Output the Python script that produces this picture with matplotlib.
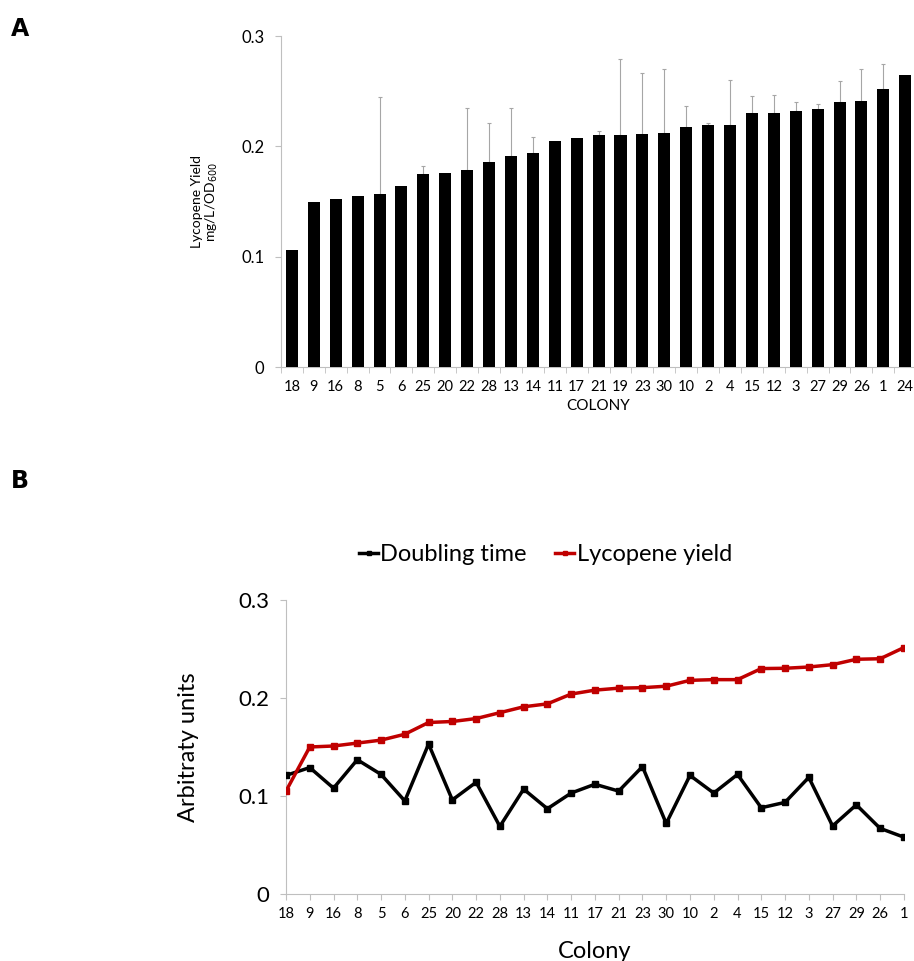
import matplotlib.pyplot as plt
import numpy as np

plt.rcParams['font.family'] = ['Lato', 'DejaVu Sans']

# panel A: lycopene yield per colony
colonies_a = ['18', '9', '16', '8', '5', '6', '25', '20', '22', '28', '13', '14', '11', '17', '21',
              '19', '23', '30', '10', '2', '4', '15', '12', '3', '27', '29', '26', '1', '24']
yield_a = [0.106, 0.150, 0.152, 0.155, 0.157, 0.164, 0.175, 0.176, 0.179, 0.186, 0.191, 0.194,
           0.2045, 0.2076, 0.210, 0.2106, 0.211, 0.212, 0.218, 0.219, 0.219, 0.230, 0.2305,
           0.232, 0.2344, 0.240, 0.2414, 0.252, 0.265]
err_a = [np.nan, np.nan, np.nan, np.nan, 0.088, np.nan, 0.007, np.nan, 0.056, 0.035, 0.044, 0.015,
         np.nan, np.nan, 0.004, 0.069, 0.056, 0.058, 0.019, 0.002, 0.041, 0.016, 0.0165,
         0.0085, 0.0045, 0.019, 0.029, 0.023, np.nan]

# panel B: doubling time vs lycopene yield
colonies_b = ['18', '9', '16', '8', '5', '6', '25', '20', '22', '28', '13', '14', '11', '17', '21',
              '23', '30', '10', '2', '4', '15', '12', '3', '27', '29', '26', '1']
doubling = [0.121, 0.129, 0.108, 0.137, 0.122, 0.095, 0.153, 0.096, 0.114, 0.069, 0.107, 0.087,
            0.103, 0.112, 0.105, 0.130, 0.072, 0.121, 0.103, 0.122, 0.088, 0.0935, 0.119,
            0.0694, 0.091, 0.067, 0.058]
lycopene = [0.105, 0.150, 0.151, 0.154, 0.157, 0.163, 0.175, 0.176, 0.179, 0.185, 0.191, 0.194,
            0.204, 0.208, 0.210, 0.2105, 0.212, 0.218, 0.2187, 0.2187, 0.230, 0.2303, 0.2316,
            0.234, 0.2395, 0.240, 0.2514]

grey = '#bfbfbf'
fig = plt.figure(figsize=(9.14, 9.61), dpi=100)

# ---- A ----
ax = fig.add_axes([0.3074, 0.618, 0.695, 0.3444])
x = np.arange(len(colonies_a))
ax.bar(x, yield_a, width=0.55, color='black', zorder=3)
err = np.array(err_a)
m = ~np.isnan(err)
ax.errorbar(x[m], np.array(yield_a)[m], yerr=[np.zeros(m.sum()), err[m]], fmt='none',
            ecolor='#a6a6a6', elinewidth=0.8, capsize=1.5, capthick=0.8, zorder=2)
ax.set_xlim(-0.5, len(colonies_a) - 0.5)
ax.set_ylim(0, 0.3)
ax.set_yticks([0, 0.1, 0.2, 0.3])
ax.set_yticklabels(['0', '0.1', '0.2', '0.3'], fontsize=12)
ax.set_xticks(x)
ax.set_xticklabels(colonies_a, fontsize=10.5)
ax.set_xticks(np.arange(-0.5, len(colonies_a)), minor=True)
ax.tick_params(axis='x', which='major', length=0, pad=9)
ax.tick_params(axis='x', which='minor', length=4, color=grey)
ax.tick_params(axis='y', length=4, color=grey, pad=8)
for s in ['top', 'right']:
    ax.spines[s].set_visible(False)
for s in ['left', 'bottom']:
    ax.spines[s].set_color(grey)
ax.set_xlabel('COLONY', fontsize=11, labelpad=4)
ax.set_ylabel('Lycopene Yield\nmg/L/OD$_{600}$', fontsize=10, labelpad=15, linespacing=1.05)
fig.text(0.012, 0.97, 'A', fontsize=17, fontweight='bold', family='DejaVu Sans', va='center')

# ---- B ----
ax2 = fig.add_axes([0.3129, 0.0697, 0.676, 0.306])
xb = np.arange(len(colonies_b))
ax2.plot(xb, doubling, color='black', lw=2.5, marker='s', ms=4, label='Doubling time')
ax2.plot(xb, lycopene, color='#c00000', lw=2.5, marker='s', ms=4, label='Lycopene yield')
ax2.set_xlim(0, len(colonies_b) - 1)
ax2.set_ylim(0, 0.3)
ax2.set_yticks([0, 0.1, 0.2, 0.3])
ax2.set_yticklabels(['0', '0.1', '0.2', '0.3'], fontsize=16)
ax2.set_xticks(xb)
ax2.set_xticklabels(colonies_b, fontsize=10.5)
ax2.tick_params(axis='x', length=4, color=grey, pad=5)
ax2.tick_params(axis='y', length=4, color=grey, pad=8)
for s in ['top', 'right']:
    ax2.spines[s].set_visible(False)
for s in ['left', 'bottom']:
    ax2.spines[s].set_color(grey)
ax2.spines['left'].set_zorder(0)
ax2.set_xlabel('Colony', fontsize=17, labelpad=15)
ax2.set_ylabel('Arbitraty units', fontsize=17, labelpad=28)
ax2.legend(loc='center', bbox_to_anchor=(0.42, 1.153), ncol=2, frameon=False, fontsize=17,
           handlelength=0.8, handletextpad=0.1, columnspacing=1.2, markerscale=0.8)
fig.text(0.012, 0.5, 'B', fontsize=17, fontweight='bold', family='DejaVu Sans', va='center')

fig.savefig('out.png', dpi=100)
